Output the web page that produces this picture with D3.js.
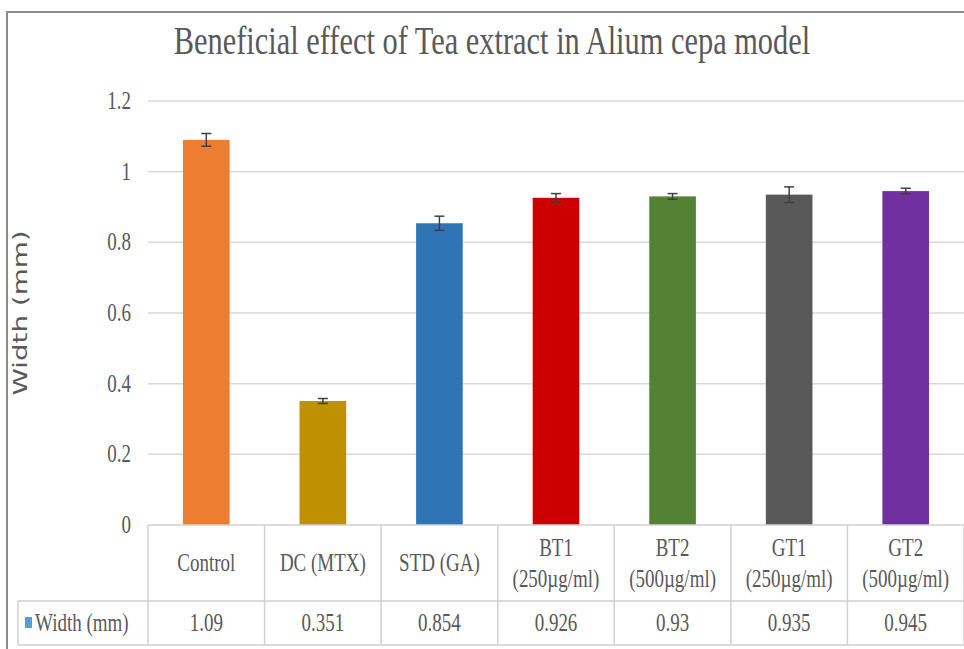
<!DOCTYPE html>
<html lang="en">
<head>
  <meta charset="utf-8">
  <title>Beneficial effect of Tea extract in Alium cepa model</title>
  <script src="https://d3js.org/d3.v7.min.js"></script>
  <style>
    body { margin: 0; background: #fff; }
    svg { display: block; }
    .lbl { font-family: "Liberation Serif", serif; fill: #595959; }
  </style>
</head>
<body>
<div id="chart"></div>
<script>
// chart data
const categories = ["Control", "DC (MTX)", "STD (GA)", "BT1 (250µg/ml)", "BT2 (500µg/ml)", "GT1 (250µg/ml)", "GT2 (500µg/ml)"];
const catLines = [["Control"], ["DC (MTX)"], ["STD (GA)"], ["BT1", "(250µg/ml)"], ["BT2", "(500µg/ml)"], ["GT1", "(250µg/ml)"], ["GT2", "(500µg/ml)"]];
const widthValues = [1.09, 0.351, 0.854, 0.926, 0.93, 0.935, 0.945];
const valueLabels = ["1.09", "0.351", "0.854", "0.926", "0.93", "0.935", "0.945"];
const errors = [0.018, 0.007, 0.02, 0.012, 0.008, 0.022, 0.008];
const barColors = ["#ED7D31", "#BF9000", "#2E75B6", "#CC0000", "#548235", "#595959", "#7030A0"];
const yTicks = [0, 0.2, 0.4, 0.6, 0.8, 1, 1.2];

const W = 964, H = 649;
const plotLeft = 148, plotRight = 964, plotTop = 101, plotBottom = 525;
const rowSep = 601, tableBottom = 645, legendLeft = 18;
const sx = 0.76; // squeeze for the narrow font look
const fs = "25px";

const svg = d3.select("#chart").append("svg")
  .attr("width", W)
  .attr("height", H);

// outer frame
svg.append("path")
  .attr("d", `M7,${H} L7,12 L${W},12`)
  .attr("fill", "none")
  .attr("stroke", "#8c8c8c")
  .attr("stroke-width", 2);

const x = d3.scaleBand()
  .domain(categories)
  .range([plotLeft, plotRight])
  .paddingInner(0.6)
  .paddingOuter(0.3);

const step = (plotRight - plotLeft) / categories.length;
const colX = d3.scaleLinear().domain([0, categories.length]).range([plotLeft, plotRight]);

const y = d3.scaleLinear()
  .domain([0, 1.2])
  .range([plotBottom, plotTop]);

// gridlines
svg.append("g")
  .selectAll("line")
  .data(yTicks.filter(d => d > 0))
  .join("line")
  .attr("x1", plotLeft).attr("x2", plotRight)
  .attr("y1", d => y(d)).attr("y2", d => y(d))
  .attr("stroke", "#d9d9d9")
  .attr("stroke-width", 1.5);

// y tick labels
svg.append("g")
  .selectAll("text")
  .data(yTicks)
  .join("text")
  .attr("class", "lbl")
  .attr("transform", d => `translate(131,${y(d) + 8}) scale(${sx},1)`)
  .attr("text-anchor", "end")
  .style("font-size", fs)
  .text(d => d3.format("")(d));

// bars
svg.append("g")
  .selectAll("rect")
  .data(widthValues)
  .join("rect")
  .attr("x", (d, i) => x(categories[i]))
  .attr("width", x.bandwidth())
  .attr("y", d => y(d))
  .attr("height", d => y(0) - y(d))
  .attr("fill", (d, i) => barColors[i]);

// error bars
const eb = svg.append("g").attr("stroke", "#404040").attr("stroke-width", 1.5);
widthValues.forEach((v, i) => {
  const cx = x(categories[i]) + x.bandwidth() / 2;
  const y1 = y(v + errors[i]), y2 = y(v - errors[i]);
  eb.append("line").attr("x1", cx).attr("x2", cx).attr("y1", y1).attr("y2", y2);
  eb.append("line").attr("x1", cx - 5).attr("x2", cx + 5).attr("y1", y1).attr("y2", y1);
  eb.append("line").attr("x1", cx - 5).attr("x2", cx + 5).attr("y1", y2).attr("y2", y2);
});

// data table lines
const tbl = svg.append("g").attr("stroke", "#d0d0d0").attr("stroke-width", 1.5);
tbl.append("line").attr("x1", plotLeft).attr("x2", plotRight).attr("y1", plotBottom).attr("y2", plotBottom);
tbl.append("line").attr("x1", legendLeft).attr("x2", plotRight).attr("y1", rowSep).attr("y2", rowSep);
tbl.append("line").attr("x1", legendLeft).attr("x2", plotRight).attr("y1", tableBottom).attr("y2", tableBottom);
tbl.append("line").attr("x1", legendLeft).attr("x2", legendLeft).attr("y1", rowSep).attr("y2", tableBottom);
tbl.selectAll("line.v")
  .data(d3.range(categories.length + 1))
  .join("line")
  .attr("class", "v")
  .attr("x1", d => colX(d)).attr("x2", d => colX(d))
  .attr("y1", plotBottom).attr("y2", tableBottom);

// category labels
const catG = svg.append("g");
catLines.forEach((lines, i) => {
  const cx = colX(i) + step / 2;
  const mid = (plotBottom + rowSep) / 2;
  lines.forEach((t, j) => {
    const ty = lines.length === 1 ? mid + 8 : mid - 7 + j * 31;
    catG.append("text")
      .attr("class", "lbl")
      .attr("transform", `translate(${cx},${ty}) scale(${sx},1)`)
      .attr("text-anchor", "middle")
      .style("font-size", fs)
      .text(t);
  });
});

// values row
svg.append("g")
  .selectAll("text")
  .data(valueLabels)
  .join("text")
  .attr("class", "lbl")
  .attr("transform", (d, i) => `translate(${colX(i) + step / 2},${(rowSep + tableBottom) / 2 + 8}) scale(${sx},1)`)
  .attr("text-anchor", "middle")
  .style("font-size", fs)
  .text(d => d);

// legend key in table
svg.append("rect")
  .attr("x", 25).attr("y", 617)
  .attr("width", 7).attr("height", 11)
  .attr("fill", "#5B9BD5");
svg.append("text")
  .attr("class", "lbl")
  .attr("transform", `translate(35,631) scale(${sx},1)`)
  .style("font-size", fs)
  .text("Width (mm)");

// y axis title
svg.append("text")
  .attr("transform", `translate(27,313) rotate(-90)`)
  .attr("text-anchor", "middle")
  .attr("textLength", 165)
  .attr("lengthAdjust", "spacingAndGlyphs")
  .style("font-family", "'DejaVu Sans', sans-serif")
  .style("font-size", "20px")
  .style("fill", "#595959")
  .text("Width (mm)");

// title
svg.append("text")
  .attr("class", "lbl")
  .attr("transform", `translate(492,54) scale(${sx},1)`)
  .attr("text-anchor", "middle")
  .style("font-size", "40px")
  .text("Beneficial effect of Tea extract in Alium cepa model");
</script>
</body>
</html>
